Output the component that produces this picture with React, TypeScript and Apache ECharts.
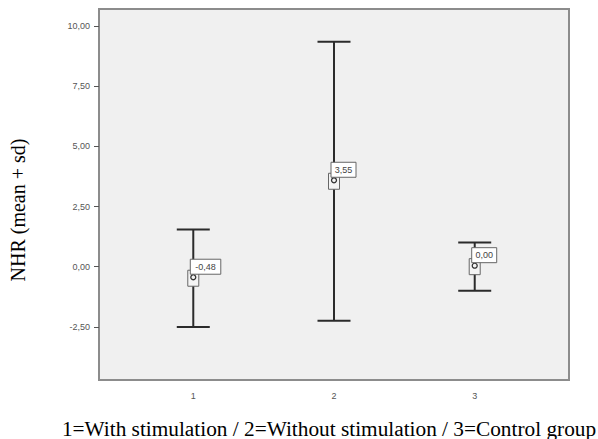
import React, { useEffect, useRef } from "react";
import * as echarts from "echarts";

const categories = [1, 2, 3];
const means = [-0.48, 3.55, 0.0];
const sds = [2.03, 5.8, 1.0];
const yTicks = [-2.5, 0, 2.5, 5, 7.5, 10];
const yTitle = "NHR (mean + sd)";
const xTitle = "1=With stimulation / 2=Without stimulation / 3=Control group";

const fmt = (v: number) => v.toFixed(2).replace(".", ",");

export default function App() {
  const ref = useRef<HTMLDivElement>(null);
  useEffect(() => {
    if (!ref.current) return;
    const chart = echarts.init(ref.current, null, { renderer: "svg" });
    const data = categories.map((c, i) => [c, means[i], sds[i]]);
    chart.setOption({
      animation: false,
      backgroundColor: "#ffffff",
      grid: {
        left: 99,
        top: 9,
        width: 470,
        height: 371,
        show: true,
        backgroundColor: "#f0f0f0",
        borderColor: "#8c8c8c",
        borderWidth: 2,
        outerBoundsMode: "none",
      },
      xAxis: {
        type: "value",
        min: 0.33,
        max: 3.67,
        name: xTitle,
        nameLocation: "middle",
        nameGap: 38,
        nameTextStyle: {
          fontFamily: "Times New Roman",
          fontSize: 21.3,
          color: "#000",
          padding: [0, 10, 0, 0],
        },
        splitLine: { show: false },
        axisLine: { show: false },
        axisTick: { show: true, customValues: categories, length: 6, lineStyle: { color: "#555", width: 1 } },
        axisLabel: {
          customValues: categories,
          formatter: (v: number) => String(v),
          color: "#555",
          fontSize: 9,
          fontFamily: "Liberation Sans",
          margin: 11,
        },
      },
      yAxis: {
        type: "value",
        min: -4.71,
        max: 10.71,
        name: yTitle,
        nameLocation: "middle",
        nameRotate: 90,
        nameGap: 71,
        nameTextStyle: {
          fontFamily: "Times New Roman",
          fontSize: 20,
          color: "#000",
          padding: [0, 31, 0, 0],
        },
        splitLine: { show: false },
        axisLine: { show: false },
        axisTick: { show: true, customValues: yTicks, length: 5, lineStyle: { color: "#555", width: 1 } },
        axisLabel: {
          customValues: yTicks,
          formatter: (v: number) => fmt(v),
          color: "#555",
          fontSize: 9,
          fontFamily: "Liberation Sans",
          margin: 9,
        },
      },
      series: [
        {
          type: "custom",
          clip: false,
          data,
          renderItem: (params: any, api: any) => {
            const x = api.value(0);
            const m = api.value(1);
            const sd = api.value(2);
            const [px, py] = api.coord([x, m]);
            const top = api.coord([x, m + sd])[1];
            const bot = api.coord([x, m - sd])[1];
            const cap = 16.5;
            const lineStyle = { stroke: "#2b2b2b", lineWidth: 2 };
            const label = fmt(m);
            const lw = label.length * 5.5 + 3;
            return {
              type: "group",
              children: [
                { type: "line", shape: { x1: px, y1: top, x2: px, y2: bot }, style: lineStyle },
                { type: "line", shape: { x1: px - cap, y1: top, x2: px + cap, y2: top }, style: lineStyle },
                { type: "line", shape: { x1: px - cap, y1: bot, x2: px + cap, y2: bot }, style: lineStyle },
                {
                  type: "rect",
                  shape: { x: px - 5.5, y: py - 8, width: 11, height: 16 },
                  style: { fill: "#f4f4f4", stroke: "#666", lineWidth: 1 },
                },
                {
                  type: "circle",
                  shape: { cx: px, cy: py - 1, r: 2.5 },
                  style: { fill: "none", stroke: "#333", lineWidth: 1.3 },
                },
                {
                  type: "rect",
                  shape: { x: px - 3, y: py - 19, width: lw, height: 15 },
                  style: { fill: "#ffffff", stroke: "#666", lineWidth: 1 },
                },
                {
                  type: "text",
                  x: px - 3 + lw / 2,
                  y: py - 11.5,
                  style: {
                    text: label,
                    fontFamily: "Liberation Sans",
                    fontSize: 9,
                    fill: "#444",
                    align: "center",
                    verticalAlign: "middle",
                  },
                },
              ],
            };
          },
        },
      ],
    });
    return () => chart.dispose();
  }, []);
  return (
    <div
      ref={ref}
      style={{ position: "absolute", left: 0, top: 0, width: 598, height: 439 }}
    />
  );
}
